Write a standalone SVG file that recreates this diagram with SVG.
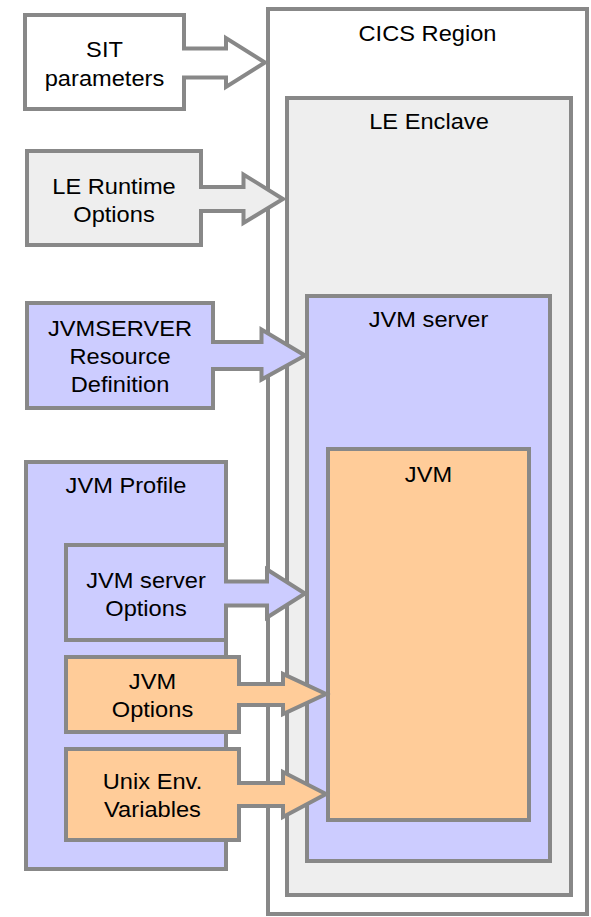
<svg xmlns="http://www.w3.org/2000/svg" width="591" height="917" viewBox="0 0 591 917">
<style>
.b{stroke:#888888;stroke-width:4;stroke-linejoin:miter}
.w{fill:#ffffff}.g{fill:#eeeeee}.v{fill:#ccccff}.o{fill:#ffcc99}
text{font-family:"Liberation Sans",Arial,sans-serif;font-size:22px;fill:#000000;text-anchor:middle}
</style>
<rect width="591" height="917" fill="#ffffff"/>
<g id="cics-region">
<rect class="b w" x="268" y="9" width="319" height="905"/>
<text transform="translate(427.5,40.7) scale(1.075,1)">CICS Region</text>
</g>
<g id="le-enclave">
<rect class="b g" x="287" y="98" width="284" height="797"/>
<text transform="translate(429,129.3) scale(1.075,1)">LE Enclave</text>
</g>
<g id="jvm-server">
<rect class="b v" x="307" y="296" width="243" height="565"/>
<text transform="translate(428.5,327.3) scale(1.075,1)">JVM server</text>
</g>
<g id="jvm">
<rect class="b o" x="328" y="449" width="201" height="371"/>
<text transform="translate(428.5,481.7) scale(1.075,1)">JVM</text>
</g>
<g id="sit-parameters">
<rect class="b w" x="25" y="15" width="159" height="94"/>
<text transform="translate(104.5,57) scale(1.075,1)">SIT<tspan x="0" dy="29">parameters</tspan></text>
</g>
<g id="le-runtime-options">
<rect class="b g" x="27" y="151" width="174" height="94"/>
<text transform="translate(114,194) scale(1.075,1)">LE Runtime<tspan x="0" dy="28">Options</tspan></text>
</g>
<g id="jvmserver-resource-definition">
<rect class="b v" x="27" y="303" width="186" height="105"/>
<text transform="translate(120,336) scale(1.075,1)">JVMSERVER<tspan x="0" dy="28">Resource</tspan><tspan x="0" dy="28">Definition</tspan></text>
</g>
<g id="jvm-profile">
<rect class="b v" x="26" y="462" width="200" height="407"/>
<text transform="translate(126,493) scale(1.075,1)">JVM Profile</text>
</g>
<g id="jvm-server-options">
<rect class="b v" x="66" y="545" width="160" height="95"/>
<text transform="translate(146,588.3) scale(1.075,1)">JVM server<tspan x="0" dy="28">Options</tspan></text>
</g>
<g id="jvm-options">
<rect class="b o" x="66" y="657" width="173" height="75"/>
<text transform="translate(152.5,689.3) scale(1.075,1)">JVM<tspan x="0" dy="28">Options</tspan></text>
</g>
<g id="unix-env-variables">
<rect class="b o" x="66" y="749" width="173" height="91"/>
<text transform="translate(152.5,789.3) scale(1.075,1)">Unix Env.<tspan x="0" dy="28">Variables</tspan></text>
</g>
<g id="connectors">
<path class="b w" d="M182,48.5 H226 V38 L265,62.5 L226,87 V77.5 H182"/>
<path class="b g" d="M199,187 H243.5 V174.5 L283,199 L243.5,223 V211 H199"/>
<path class="b v" d="M211,342 H261.5 V329.5 L305,355.5 L261.5,379.5 V369 H211"/>
<path class="b v" d="M224,581.5 H267 V569.5 L305,593.5 L267,617.5 V605.5 H224"/>
<path class="b o" d="M237,684 H283 V674 L326,694 L283,714 V705 H237"/>
<path class="b o" d="M237,783 H283 V772 L326,794 L283,817 V806 H237"/>
</g>
</svg>
